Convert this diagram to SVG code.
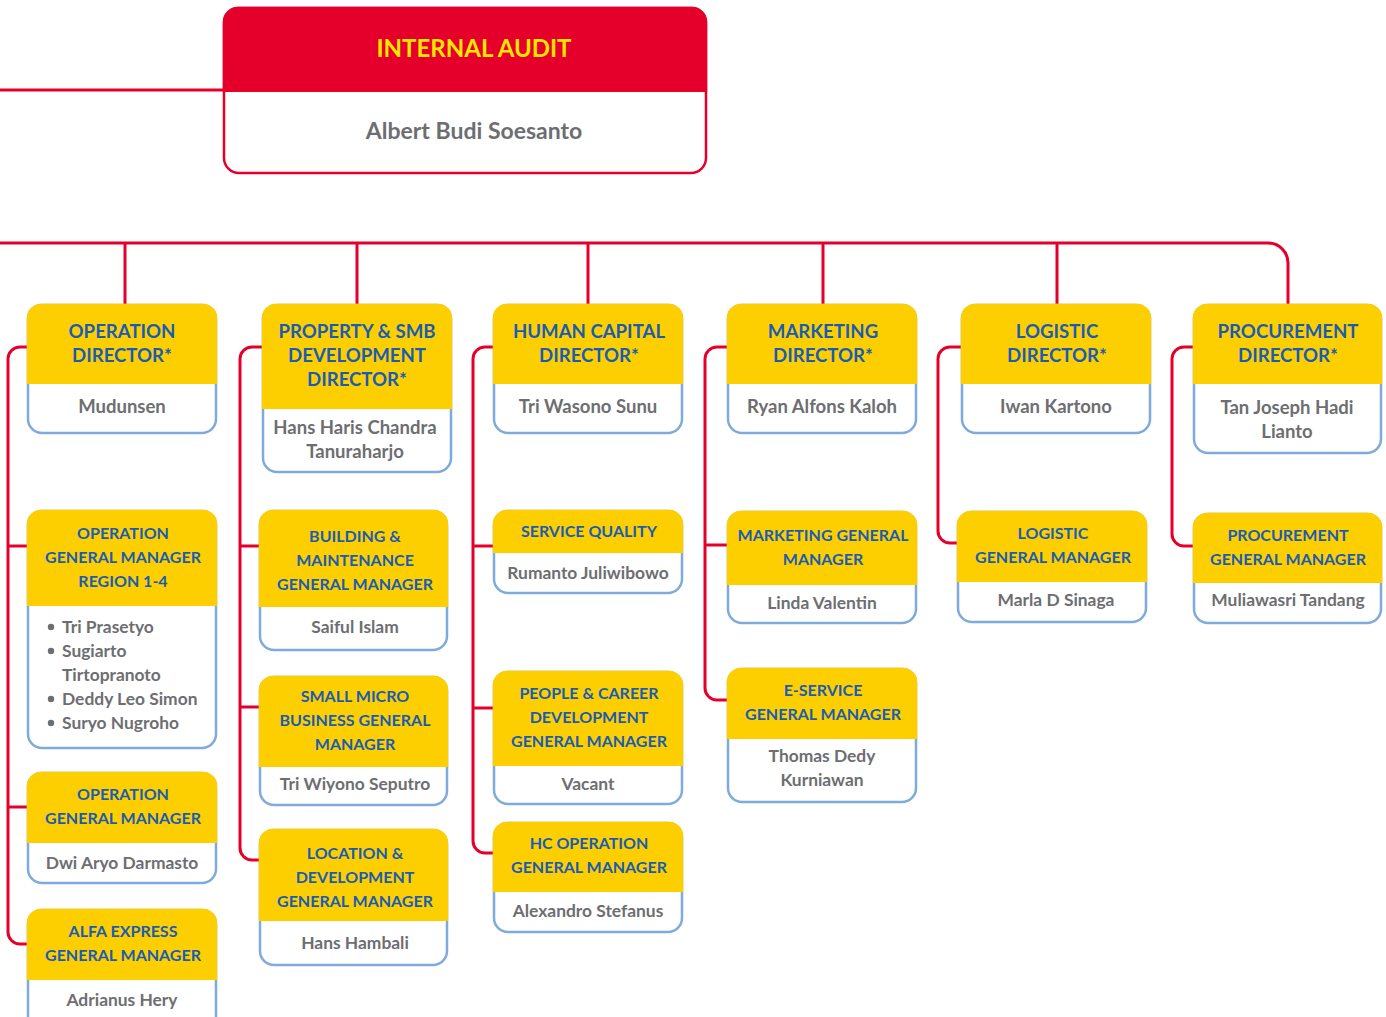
<svg xmlns="http://www.w3.org/2000/svg" width="1386" height="1017" viewBox="0 0 1386 1017">
<style>
.bg{fill:#ffffff}
.cb{fill:#ffffff;stroke:#7eaadc;stroke-width:2.5}
.yh{fill:#fdcf00}
.ab{fill:#ffffff;stroke:#e5002b;stroke-width:2.5}
.ah{fill:#e5002b}
.ln{fill:none;stroke:#e5002b;stroke-width:3;stroke-linecap:butt}
.hd{font-family:Lato,"Open Sans",sans-serif;font-weight:700;font-size:18.6px;fill:#1a5cb4;text-anchor:middle}
.hs{font-size:16px}
.nm{font-family:Lato,"Open Sans",sans-serif;font-weight:700;font-size:18.5px;fill:#6d6e71;text-anchor:middle}
.ns{font-size:17.4px}
.bl{text-anchor:start}
.ti{font-family:Lato,"Open Sans",sans-serif;font-weight:700;font-size:24px;fill:#ffe600;text-anchor:middle}
.tn{font-family:Lato,"Open Sans",sans-serif;font-weight:700;font-size:23px;fill:#6d6e71;text-anchor:middle}
.dot{fill:#6d6e71}
</style>
<rect class="bg" x="0" y="0" width="1386" height="1017"/>
<g id="connectors">
<path class="ln" d="M0,90 H224"/>
<path class="ln" d="M0,243 H1268 A20,20 0 0 1 1288,263 V305"/>
<path class="ln" d="M125,243 V305 M357,243 V305 M588,243 V305 M823,243 V305 M1057,243 V305"/>
<path class="ln" d="M28,347 H20 A12,12 0 0 0 8,359 V932 A12,12 0 0 0 20,944 H28 M8,546 H28 M8,807 H28"/>
<path class="ln" d="M263,347 H252 A12,12 0 0 0 240,359 V848 A12,12 0 0 0 252,860 H260 M240,546 H260 M240,707 H260"/>
<path class="ln" d="M494,347 H485 A12,12 0 0 0 473,359 V841 A12,12 0 0 0 485,853 H494 M473,546 H494 M473,708 H494"/>
<path class="ln" d="M728,347 H717 A12,12 0 0 0 705,359 V688 A12,12 0 0 0 717,700 H728 M705,545 H728"/>
<path class="ln" d="M962,347 H950 A12,12 0 0 0 938,359 V531 A12,12 0 0 0 950,543 H958"/>
<path class="ln" d="M1194,347 H1184 A12,12 0 0 0 1172,359 V534 A12,12 0 0 0 1184,546 H1194"/>
</g>
<g id="internal-audit">
<rect class="ab" x="224" y="8" width="482" height="165" rx="15"/>
<path class="ah" d="M222.8,92 V22 A15,15 0 0 1 238,6.8 H692 A15,15 0 0 1 707.2,22 V92 Z"/>
<text class="ti" x="474" y="57">INTERNAL AUDIT</text>
<text class="tn" x="474" y="139">Albert Budi Soesanto</text>
</g>
<g id="operation-director">
<rect class="cb" x="28" y="305" width="188" height="128" rx="14"/>
<path class="yh" d="M26.8,384 V319 A14,14 0 0 1 41,303.8 H203 A14,14 0 0 1 217.2,319 V384 Z"/>
<text class="hd" x="122" y="338">OPERATION</text>
<text class="hd" x="122" y="362">DIRECTOR*</text>
<text class="nm" x="122" y="413">Mudunsen</text>
</g>
<g id="property-director">
<rect class="cb" x="263" y="305" width="188" height="167" rx="14"/>
<path class="yh" d="M261.8,409 V319 A14,14 0 0 1 276,303.8 H438 A14,14 0 0 1 452.2,319 V409 Z"/>
<text class="hd" x="357" y="338">PROPERTY &amp; SMB</text>
<text class="hd" x="357" y="362">DEVELOPMENT</text>
<text class="hd" x="357" y="386">DIRECTOR*</text>
<text class="nm" x="355" y="434">Hans Haris Chandra</text>
<text class="nm" x="355" y="458">Tanuraharjo</text>
</g>
<g id="hc-director">
<rect class="cb" x="494" y="305" width="188" height="128" rx="14"/>
<path class="yh" d="M492.8,384 V319 A14,14 0 0 1 507,303.8 H669 A14,14 0 0 1 683.2,319 V384 Z"/>
<text class="hd" x="589" y="338">HUMAN CAPITAL</text>
<text class="hd" x="589" y="362">DIRECTOR*</text>
<text class="nm" x="588" y="413">Tri Wasono Sunu</text>
</g>
<g id="marketing-director">
<rect class="cb" x="728" y="305" width="188" height="128" rx="14"/>
<path class="yh" d="M726.8,384 V319 A14,14 0 0 1 741,303.8 H903 A14,14 0 0 1 917.2,319 V384 Z"/>
<text class="hd" x="823" y="338">MARKETING</text>
<text class="hd" x="823" y="362">DIRECTOR*</text>
<text class="nm" x="822" y="413">Ryan Alfons Kaloh</text>
</g>
<g id="logistic-director">
<rect class="cb" x="962" y="305" width="188" height="128" rx="14"/>
<path class="yh" d="M960.8,384 V319 A14,14 0 0 1 975,303.8 H1137 A14,14 0 0 1 1151.2,319 V384 Z"/>
<text class="hd" x="1057" y="338">LOGISTIC</text>
<text class="hd" x="1057" y="362">DIRECTOR*</text>
<text class="nm" x="1056" y="413">Iwan Kartono</text>
</g>
<g id="procurement-director">
<rect class="cb" x="1194" y="305" width="187" height="148" rx="14"/>
<path class="yh" d="M1192.8,384 V319 A14,14 0 0 1 1207,303.8 H1368 A14,14 0 0 1 1382.2,319 V384 Z"/>
<text class="hd" x="1288" y="338">PROCUREMENT</text>
<text class="hd" x="1288" y="362">DIRECTOR*</text>
<text class="nm" x="1287" y="414">Tan Joseph Hadi</text>
<text class="nm" x="1287" y="438">Lianto</text>
</g>
<g id="operation-gm-region">
<rect class="cb" x="28" y="511" width="188" height="237" rx="14"/>
<path class="yh" d="M26.8,606 V525 A14,14 0 0 1 41,509.8 H203 A14,14 0 0 1 217.2,525 V606 Z"/>
<text class="hd hs" x="123" y="539">OPERATION</text>
<text class="hd hs" x="123" y="563">GENERAL MANAGER</text>
<text class="hd hs" x="123" y="587">REGION 1-4</text>
<circle class="dot" cx="51" cy="627" r="3.2"/>
<circle class="dot" cx="51" cy="651" r="3.2"/>
<circle class="dot" cx="51" cy="699" r="3.2"/>
<circle class="dot" cx="51" cy="723" r="3.2"/>
<text class="nm ns bl" x="62" y="633">Tri Prasetyo</text>
<text class="nm ns bl" x="62" y="657">Sugiarto</text>
<text class="nm ns bl" x="62" y="681">Tirtopranoto</text>
<text class="nm ns bl" x="62" y="705">Deddy Leo Simon</text>
<text class="nm ns bl" x="62" y="729">Suryo Nugroho</text>
</g>
<g id="operation-gm">
<rect class="cb" x="28" y="773" width="188" height="110" rx="14"/>
<path class="yh" d="M26.8,843 V787 A14,14 0 0 1 41,771.8 H203 A14,14 0 0 1 217.2,787 V843 Z"/>
<text class="hd hs" x="123" y="800">OPERATION</text>
<text class="hd hs" x="123" y="824">GENERAL MANAGER</text>
<text class="nm ns" x="122" y="869">Dwi Aryo Darmasto</text>
</g>
<g id="alfa-express-gm">
<rect class="cb" x="28" y="910" width="188" height="125" rx="14"/>
<path class="yh" d="M26.8,980 V924 A14,14 0 0 1 41,908.8 H203 A14,14 0 0 1 217.2,924 V980 Z"/>
<text class="hd hs" x="123" y="937">ALFA EXPRESS</text>
<text class="hd hs" x="123" y="961">GENERAL MANAGER</text>
<text class="nm ns" x="122" y="1006">Adrianus Hery</text>
</g>
<g id="building-gm">
<rect class="cb" x="260" y="511" width="187" height="139" rx="14"/>
<path class="yh" d="M258.8,607 V525 A14,14 0 0 1 273,509.8 H434 A14,14 0 0 1 448.2,525 V607 Z"/>
<text class="hd hs" x="355" y="542">BUILDING &amp;</text>
<text class="hd hs" x="355" y="566">MAINTENANCE</text>
<text class="hd hs" x="355" y="590">GENERAL MANAGER</text>
<text class="nm ns" x="355" y="633">Saiful Islam</text>
</g>
<g id="small-micro-gm">
<rect class="cb" x="260" y="677" width="187" height="128" rx="14"/>
<path class="yh" d="M258.8,767 V691 A14,14 0 0 1 273,675.8 H434 A14,14 0 0 1 448.2,691 V767 Z"/>
<text class="hd hs" x="355" y="702">SMALL MICRO</text>
<text class="hd hs" x="355" y="726">BUSINESS GENERAL</text>
<text class="hd hs" x="355" y="750">MANAGER</text>
<text class="nm ns" x="355" y="790">Tri Wiyono Seputro</text>
</g>
<g id="location-gm">
<rect class="cb" x="260" y="830" width="187" height="135" rx="14"/>
<path class="yh" d="M258.8,921 V844 A14,14 0 0 1 273,828.8 H434 A14,14 0 0 1 448.2,844 V921 Z"/>
<text class="hd hs" x="355" y="859">LOCATION &amp;</text>
<text class="hd hs" x="355" y="883">DEVELOPMENT</text>
<text class="hd hs" x="355" y="907">GENERAL MANAGER</text>
<text class="nm ns" x="355" y="949">Hans Hambali</text>
</g>
<g id="service-quality">
<rect class="cb" x="494" y="511" width="188" height="82" rx="14"/>
<path class="yh" d="M492.8,553 V525 A14,14 0 0 1 507,509.8 H669 A14,14 0 0 1 683.2,525 V553 Z"/>
<text class="hd hs" x="589" y="537">SERVICE QUALITY</text>
<text class="nm ns" x="588" y="579">Rumanto Juliwibowo</text>
</g>
<g id="people-career-gm">
<rect class="cb" x="494" y="672" width="188" height="132" rx="14"/>
<path class="yh" d="M492.8,766 V686 A14,14 0 0 1 507,670.8 H669 A14,14 0 0 1 683.2,686 V766 Z"/>
<text class="hd hs" x="589" y="699">PEOPLE &amp; CAREER</text>
<text class="hd hs" x="589" y="723">DEVELOPMENT</text>
<text class="hd hs" x="589" y="747">GENERAL MANAGER</text>
<text class="nm ns" x="588" y="790">Vacant</text>
</g>
<g id="hc-operation-gm">
<rect class="cb" x="494" y="823" width="188" height="109" rx="14"/>
<path class="yh" d="M492.8,892 V837 A14,14 0 0 1 507,821.8 H669 A14,14 0 0 1 683.2,837 V892 Z"/>
<text class="hd hs" x="589" y="849">HC OPERATION</text>
<text class="hd hs" x="589" y="873">GENERAL MANAGER</text>
<text class="nm ns" x="588" y="917">Alexandro Stefanus</text>
</g>
<g id="marketing-gm">
<rect class="cb" x="728" y="512" width="188" height="111" rx="14"/>
<path class="yh" d="M726.8,585 V526 A14,14 0 0 1 741,510.8 H903 A14,14 0 0 1 917.2,526 V585 Z"/>
<text class="hd hs" x="823" y="541">MARKETING GENERAL</text>
<text class="hd hs" x="823" y="565">MANAGER</text>
<text class="nm ns" x="822" y="609">Linda Valentin</text>
</g>
<g id="e-service-gm">
<rect class="cb" x="728" y="669" width="188" height="133" rx="14"/>
<path class="yh" d="M726.8,739 V683 A14,14 0 0 1 741,667.8 H903 A14,14 0 0 1 917.2,683 V739 Z"/>
<text class="hd hs" x="823" y="696">E-SERVICE</text>
<text class="hd hs" x="823" y="720">GENERAL MANAGER</text>
<text class="nm ns" x="822" y="762">Thomas Dedy</text>
<text class="nm ns" x="822" y="786">Kurniawan</text>
</g>
<g id="logistic-gm">
<rect class="cb" x="958" y="512" width="188" height="110" rx="14"/>
<path class="yh" d="M956.8,582 V526 A14,14 0 0 1 971,510.8 H1133 A14,14 0 0 1 1147.2,526 V582 Z"/>
<text class="hd hs" x="1053" y="539">LOGISTIC</text>
<text class="hd hs" x="1053" y="563">GENERAL MANAGER</text>
<text class="nm ns" x="1056" y="606">Marla D Sinaga</text>
</g>
<g id="procurement-gm">
<rect class="cb" x="1194" y="514" width="187" height="109" rx="14"/>
<path class="yh" d="M1192.8,583 V528 A14,14 0 0 1 1207,512.8 H1368 A14,14 0 0 1 1382.2,528 V583 Z"/>
<text class="hd hs" x="1288" y="541">PROCUREMENT</text>
<text class="hd hs" x="1288" y="565">GENERAL MANAGER</text>
<text class="nm ns" x="1288" y="606">Muliawasri Tandang</text>
</g>
</svg>
